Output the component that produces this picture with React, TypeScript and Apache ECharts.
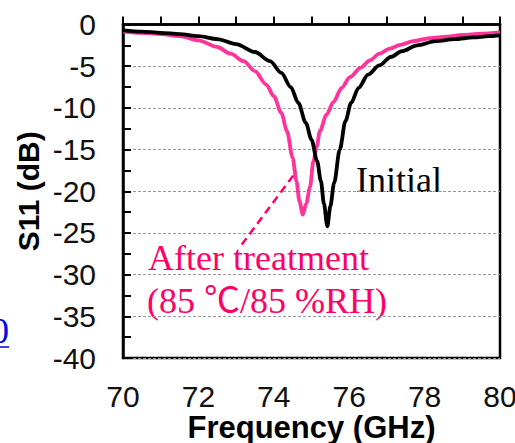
import React, { useEffect, useRef } from "react";
import * as echarts from "echarts";

// Initial S11 (black)
const initFreq = [70.0, 70.5, 71.0, 71.5, 72.0, 72.5, 73.0, 73.5, 73.9, 74.2, 74.45, 74.65, 74.85, 75.0, 75.15, 75.25, 75.33, 75.42, 75.5, 75.6, 75.75, 75.9, 76.05, 76.25, 76.5, 76.8, 77.1, 77.4, 77.8, 78.3, 78.8, 79.3, 79.7, 80.0];
const initS11 = [-0.7, -0.85, -1.0, -1.15, -1.4, -1.75, -2.35, -3.3, -4.4, -5.8, -7.5, -9.4, -11.8, -13.8, -16.4, -18.8, -21.5, -24.2, -21.8, -19.0, -15.0, -11.6, -9.4, -7.6, -6.0, -4.9, -3.9, -3.2, -2.5, -2.0, -1.75, -1.55, -1.4, -1.3];

// After treatment S11 (pink)
const afterFreq = [70.0, 70.5, 71.0, 71.5, 72.0, 72.5, 72.85, 73.2, 73.5, 73.8, 74.0, 74.2, 74.35, 74.5, 74.6, 74.68, 74.77, 74.86, 74.96, 75.05, 75.14, 75.22, 75.4, 75.58, 75.8, 76.02, 76.3, 76.55, 76.8, 77.08, 77.35, 77.7, 78.14, 78.6, 79.0, 79.5, 80.0];
const afterS11 = [-0.85, -1.0, -1.15, -1.4, -1.9, -2.7, -3.5, -4.4, -5.6, -7.2, -8.6, -10.6, -12.8, -16.0, -18.8, -21.2, -22.8, -21.5, -19.5, -16.4, -14.6, -12.8, -10.8, -9.3, -7.6, -6.3, -5.2, -4.3, -3.5, -2.9, -2.45, -2.0, -1.65, -1.45, -1.25, -1.1, -0.95];

// Annotation pointer (data coordinates)
const pointerFrom = [73.15, -26.4];
const pointerTo = [74.6, -17.6];

const xName = "Frequency (GHz)";
const yName = "S11 (dB)";
const labelInitial = "Initial";
const labelAfter1 = "After treatment";
const labelAfter2 = "(85 ℃/85 %RH)";

const PINK_LINE = "#ff3399";
const PINK_TEXT = "#ff0066";
const SANS = "Liberation Sans, Arial, sans-serif";
const SERIF = "Liberation Serif, Times New Roman, Noto Sans CJK JP, serif";

export default function App() {
  const ref = useRef<HTMLDivElement>(null);
  useEffect(() => {
    if (!ref.current) return;
    const chart = echarts.init(ref.current, undefined, { renderer: "svg" });
    const tickStyle = { color: "#000", width: 2 };
    chart.setOption({
      animation: false,
      backgroundColor: "#fff",
      grid: {
        left: 123,
        top: 24.5,
        right: 15,
        bottom: 85,
        containLabel: false,
        outerBoundsMode: "none",
        show: true,
        borderColor: "#000",
        borderWidth: 2.5,
        backgroundColor: "transparent",
      },
      xAxis: {
        type: "value",
        min: 70,
        max: 80,
        interval: 2,
        name: xName,
        nameLocation: "middle",
        nameGap: 54,
        nameMoveOverlap: false,
        nameTextStyle: { fontFamily: SANS, fontSize: 31, fontWeight: "bold", color: "#000", lineHeight: 30 },
        axisLine: { show: true, lineStyle: { color: "#000", width: 2.5 } },
        axisTick: { show: true, inside: true, length: 8, lineStyle: tickStyle },
        minorTick: { show: true, splitNumber: 2, length: 8, lineStyle: tickStyle },
        axisLabel: { fontFamily: SANS, fontSize: 30, color: "#111", margin: 23 },
        splitLine: { show: false },
      },
      yAxis: {
        type: "value",
        min: -40,
        max: 0,
        interval: 5,
        name: yName,
        nameLocation: "middle",
        nameGap: 80,
        nameMoveOverlap: false,
        nameTextStyle: { fontFamily: SANS, fontSize: 30, fontWeight: "bold", color: "#000" },
        axisLine: { show: true, lineStyle: { color: "#000", width: 2.5 } },
        axisTick: { show: true, inside: true, length: 8, lineStyle: tickStyle },
        minorTick: { show: true, splitNumber: 2, length: 8, lineStyle: tickStyle },
        axisLabel: { fontFamily: SANS, fontSize: 30, color: "#111", margin: 27 },
        splitLine: { show: true, lineStyle: { color: "#999", width: 1, type: [3, 2] } },
      },
      series: [
        {
          type: "line",
          data: afterFreq.map((f, i) => [f, afterS11[i]]),
          showSymbol: false,
          smooth: 0.3,
          smoothMonotone: "x",
          lineStyle: { color: PINK_LINE, width: 3.8 },
          z: 3,
          markLine: {
            silent: true,
            symbol: ["none", "none"],
            label: { show: false },
            lineStyle: { color: PINK_TEXT, width: 2.5, type: [8, 5] },
            data: [[{ coord: pointerFrom }, { coord: pointerTo }]],
          },
        },
        {
          type: "line",
          data: initFreq.map((f, i) => [f, initS11[i]]),
          showSymbol: false,
          smooth: 0.3,
          smoothMonotone: "x",
          lineStyle: { color: "#000", width: 3.8 },
          z: 4,
        },
      ],
      graphic: [
        {
          type: "text",
          x: 356,
          y: 180,
          style: { text: labelInitial, fill: "#000", font: `36px ${SERIF}`, textAlign: "left", textVerticalAlign: "middle" },
        },
        {
          type: "text",
          x: 148,
          y: 258,
          style: { text: labelAfter1, fill: PINK_TEXT, font: `36px ${SERIF}`, textAlign: "left", textVerticalAlign: "middle" },
        },
        {
          type: "text",
          x: 147,
          y: 301,
          style: { text: labelAfter2, fill: PINK_TEXT, font: `36px ${SERIF}`, textAlign: "left", textVerticalAlign: "middle" },
        },
        {
          type: "text",
          x: 0,
          y: 331,
          style: { text: "0", fill: "#0000ee", font: `36px ${SERIF}`, textAlign: "center", textVerticalAlign: "middle" },
        },
        {
          type: "line",
          shape: { x1: -10, y1: 347, x2: 9, y2: 347 },
          style: { stroke: "#0000ee", lineWidth: 1.5 },
        },
      ],
    });
    return () => chart.dispose();
  }, []);
  return <div ref={ref} style={{ position: "fixed", left: 0, top: 0, width: 515, height: 443 }} />;
}
